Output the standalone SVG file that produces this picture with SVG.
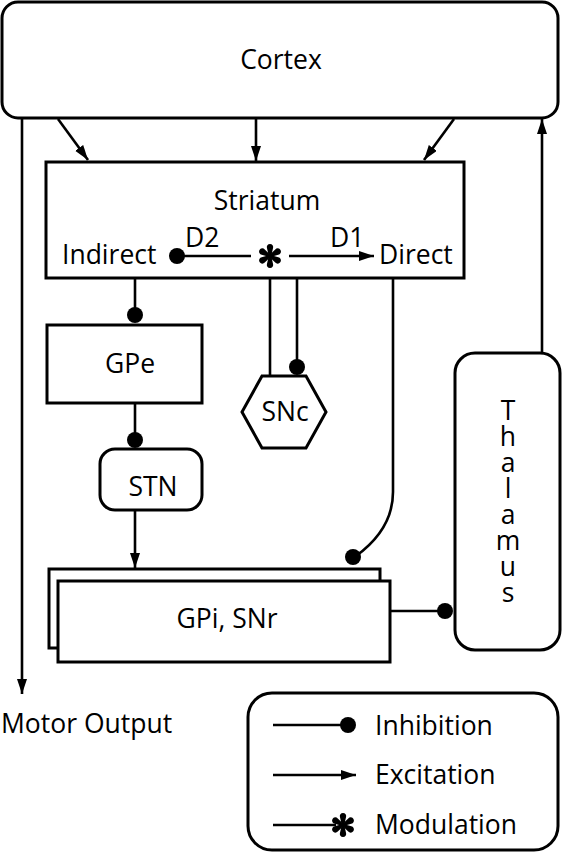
<svg xmlns="http://www.w3.org/2000/svg" width="562" height="853" viewBox="0 0 562 853">
<style>
.box{fill:#fff;stroke:#000;stroke-width:3}
.ln{fill:none;stroke:#000;stroke-width:2.6}
.t{font-family:"Open Sans","Noto Sans","Liberation Sans",sans-serif;font-size:26.5px;fill:#000}
.c{text-anchor:middle}
</style>
<defs>
<marker id="arr" markerUnits="userSpaceOnUse" markerWidth="16" markerHeight="12" refX="15" refY="5" orient="auto">
<path d="M0,0 L15,5 L0,10 Z" fill="#000"/>
</marker>
<symbol id="ast" viewBox="-12 -12 24 24" overflow="visible">
<g fill="#000">
<path id="arm" d="M-1.2,0 L-3,-7.8 A3.2,3.2 0 1 1 3,-7.8 L1.2,0 Z"/>
<use href="#arm" transform="rotate(60)"/>
<use href="#arm" transform="rotate(120)"/>
<use href="#arm" transform="rotate(180)"/>
<use href="#arm" transform="rotate(240)"/>
<use href="#arm" transform="rotate(300)"/>
</g>
</symbol>
</defs>

<g id="connectors">
<line class="ln" x1="58" y1="119" x2="88" y2="160" marker-end="url(#arr)"/>
<line class="ln" x1="256" y1="118" x2="256" y2="161" marker-end="url(#arr)"/>
<line class="ln" x1="454" y1="119" x2="424" y2="160" marker-end="url(#arr)"/>
<line class="ln" x1="22" y1="118" x2="22" y2="694" marker-end="url(#arr)"/>
<line class="ln" x1="542" y1="353" x2="542" y2="119" marker-end="url(#arr)"/>
<line class="ln" x1="135" y1="278" x2="135" y2="315"/>
<circle cx="135" cy="315" r="8"/>
<line class="ln" x1="135" y1="403" x2="135" y2="440"/>
<circle cx="135" cy="440" r="8"/>
<line class="ln" x1="135" y1="510" x2="135" y2="568" marker-end="url(#arr)"/>
<line class="ln" x1="270" y1="376" x2="270" y2="258"/>
<line class="ln" x1="297" y1="278" x2="297" y2="367"/>
<circle cx="297" cy="367" r="8"/>
<path class="ln" d="M393,278 V492 C393,520 378,540 356,556"/>
<circle cx="353" cy="557" r="8"/>
<line class="ln" x1="390" y1="611" x2="445" y2="611"/>
<circle cx="445" cy="611" r="8"/>
</g>

<g id="cortex">
<rect class="box" x="2" y="2" width="556" height="116" rx="16"/>
<text class="t c" x="281" y="69">Cortex</text>
</g>

<g id="striatum">
<rect class="box" x="46" y="162" width="418" height="116"/>
<text class="t c" x="267" y="210">Striatum</text>
<text class="t" x="62" y="264">Indirect</text>
<text class="t" x="379" y="264">Direct</text>
<text class="t" x="185" y="247">D2</text>
<text class="t" x="330" y="247">D1</text>
<line class="ln" x1="177" y1="256" x2="251" y2="256"/>
<circle cx="177" cy="256" r="8"/>
<use href="#ast" x="258" y="244" width="24" height="24"/>
<line class="ln" x1="289" y1="256" x2="374" y2="256" marker-end="url(#arr)"/>
</g>

<g id="gpe">
<rect class="box" x="47" y="325" width="155" height="78"/>
<text class="t c" x="130" y="373">GPe</text>
</g>

<g id="snc">
<polygon class="box" points="262,376 306,376 326,412 306,448 262,448 242,412"/>
<text class="t c" x="285" y="421">SNc</text>
</g>

<g id="stn">
<rect class="box" x="100" y="449" width="102" height="61" rx="15"/>
<text class="t c" x="153" y="496">STN</text>
</g>

<g id="gpi-snr">
<rect class="box" x="49" y="569" width="331" height="79"/>
<rect class="box" x="58" y="581" width="332" height="81"/>
<text class="t c" x="227" y="628">GPi, SNr</text>
</g>

<g id="thalamus">
<rect class="box" x="455" y="353" width="105" height="297" rx="20"/>
<text class="t c" x="508" y="420">T<tspan x="508" dy="26">h</tspan><tspan x="508" dy="26">a</tspan><tspan x="508" dy="26">l</tspan><tspan x="508" dy="26">a</tspan><tspan x="508" dy="26">m</tspan><tspan x="508" dy="26">u</tspan><tspan x="508" dy="26">s</tspan></text>
</g>

<g id="motor-output">
<text class="t" x="1" y="733">Motor Output</text>
</g>

<g id="legend">
<rect class="box" x="248" y="693" width="310" height="157" rx="24"/>
<line class="ln" x1="273" y1="725" x2="348" y2="725"/>
<circle cx="348" cy="725" r="8"/>
<text class="t" x="375" y="735">Inhibition</text>
<line class="ln" x1="273" y1="775" x2="356" y2="775" marker-end="url(#arr)"/>
<text class="t" x="375" y="784">Excitation</text>
<line class="ln" x1="273" y1="825" x2="336" y2="825"/>
<use href="#ast" x="331" y="813" width="24" height="24"/>
<text class="t" x="375" y="834">Modulation</text>
</g>
</svg>
